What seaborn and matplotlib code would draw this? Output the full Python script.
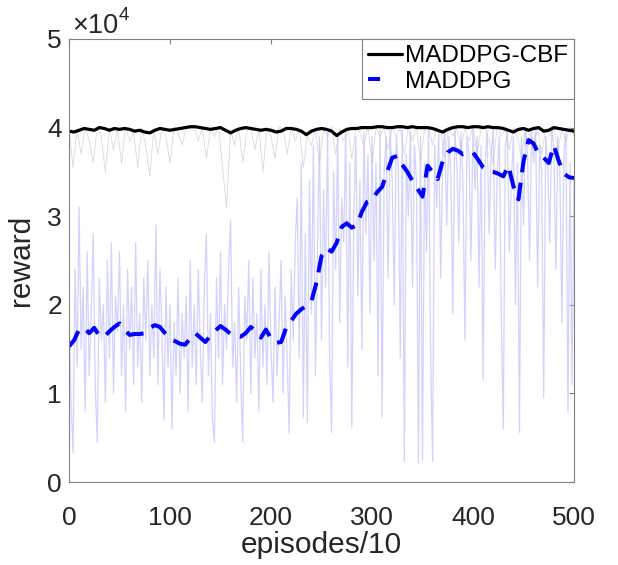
import numpy as np
import matplotlib
matplotlib.use("Agg")
import matplotlib.pyplot as plt
import seaborn as sns

# raw MADDPG reward (x1e4), every 2 episodes/10 from 0 to 500
maddpg_raw = [
    1.9, 0.9, 0.33, 2.4, 1.3, 3.1, 1.5, 2.2, 0.8, 2.6,
    1.2, 1.9, 2.8, 1.1, 0.45, 2.3, 1.6, 2.0, 0.9, 2.5,
    1.4, 2.7, 1.0, 2.1, 1.7, 2.6, 1.2, 2.0, 0.8, 2.4,
    1.5, 2.2, 1.1, 2.7, 1.3, 1.9, 0.9, 2.3, 1.6, 2.5,
    1.2, 2.0, 1.4, 2.9, 1.1, 2.4, 1.7, 0.7, 2.2, 1.3,
    2.0, 0.6, 1.8, 1.2, 2.3, 1.0, 1.9, 1.4, 2.1, 0.8,
    2.5, 1.3, 2.0, 1.1, 2.4, 1.5, 0.9, 2.2, 2.8, 1.2,
    1.9, 0.7, 0.45, 2.3, 1.4, 2.6, 1.1, 2.0, 1.5, 2.4,
    2.95, 1.3, 1.8, 0.9, 2.2, 1.2, 0.45, 2.1, 1.6, 2.5,
    1.0, 2.3, 1.4, 1.9, 0.8, 2.4, 1.3, 2.0, 1.1, 2.6,
    1.5, 0.9, 2.2, 1.2, 1.8, 2.5, 1.0, 2.1, 1.4, 0.55,
    2.4, 1.6, 2.7, 3.2, 1.4, 3.6, 0.73, 2.8, 0.67, 3.4,
    1.9, 3.8, 1.2, 2.6, 3.9, 1.6, 3.3, 2.2, 3.95, 1.4,
    0.56, 3.5, 2.4, 3.9, 1.8, 3.2, 2.7, 3.98, 1.3, 3.6,
    0.62, 3.0, 3.9, 2.1, 3.4, 1.5, 3.95, 2.8, 3.7, 1.9,
    3.9, 2.5, 3.6, 1.2, 3.98, 0.73, 3.5, 3.9, 2.3, 3.97,
    3.4, 2.0, 3.9, 3.6, 1.4, 3.98, 0.23, 3.7, 3.0, 3.95,
    2.2, 3.8, 3.4, 0.21, 3.9, 0.25, 3.6, 2.6, 3.98, 1.5,
    0.23, 3.8, 3.1, 3.95, 2.3, 3.7, 3.98, 2.9, 3.9, 3.5,
    1.9, 3.98, 3.6, 2.7, 3.95, 3.4, 1.6, 3.9, 3.7, 2.5,
    3.98, 3.3, 3.9, 2.2, 3.8, 1.15, 3.6, 3.95, 2.8, 3.7,
    3.98, 2.4, 3.5, 3.9, 1.9, 0.6, 3.8, 3.95, 2.6, 3.4,
    3.9, 2.0, 3.6, 0.56, 3.9, 2.9, 3.98, 3.7, 2.5, 3.95,
    3.6, 3.98, 2.2, 3.8, 3.5, 0.95, 3.9, 3.6, 2.7, 3.98,
    3.8, 2.4, 3.9, 3.5, 1.8, 3.7, 3.95, 0.8, 3.6, 1.1,
    3.4,
]

# raw MADDPG-CBF reward (x1e4), every 4 episodes/10
cbf_raw = [
    3.98, 3.55, 3.99, 3.7, 4.0, 3.85, 3.6, 4.01, 3.9, 3.5,
    4.0, 3.75, 3.98, 3.6, 4.01, 3.85, 3.95, 3.55, 4.0, 3.8,
    3.45, 3.99, 3.7, 4.0, 3.9, 3.6, 4.01, 3.95, 3.8, 4.0,
    3.98, 4.01, 3.85, 4.0, 3.65, 3.99, 3.9, 4.01, 3.55, 3.1,
    3.98, 3.8, 4.0, 3.6, 3.95, 4.01, 3.75, 3.98, 3.5, 4.0,
    3.9, 3.65, 4.01, 3.98, 3.7, 4.0, 3.85, 3.99, 3.55, 3.9,
    3.8, 4.0, 3.6, 3.98, 3.9, 4.01, 3.7, 3.99, 3.85, 4.0,
    3.65, 4.0, 3.95, 3.8, 4.01, 3.6, 3.99, 3.9, 4.0, 3.75,
    4.01, 3.9, 3.99, 3.7, 4.0, 3.85, 4.01, 3.6, 3.98, 4.0,
    3.8, 4.0, 3.95, 3.65, 4.01, 3.9, 3.99, 3.75, 4.0, 3.85,
    4.01, 3.7, 3.98, 4.0, 3.85, 3.6, 4.01, 3.9, 3.99, 3.75,
    4.0, 3.9, 3.65, 4.01, 3.95, 3.8, 4.0, 3.7, 3.99, 3.9,
    4.0, 3.75, 3.98, 3.85, 4.01, 3.9,
]

# smoothed curves (x1e4), every 5 episodes/10
cbf_smooth = [
    3.96, 3.95, 3.97, 3.99, 3.98, 3.97, 4.00, 3.99, 3.97, 3.99,
    3.98, 3.99, 3.98, 3.96, 3.97, 3.95, 3.94, 3.97, 3.99, 3.98,
    3.97, 3.98, 3.99, 4.00, 4.01, 4.01, 4.00, 3.99, 3.98, 3.99,
    4.00, 3.97, 3.94, 3.97, 3.99, 4.00, 3.99, 3.98, 3.97, 3.98,
    3.97, 3.95, 3.96, 3.99, 3.99, 3.98, 3.96, 3.92, 3.96, 3.98,
    3.99, 3.98, 3.96, 3.91, 3.95, 3.98, 3.99, 3.99, 4.00, 4.00,
    4.00, 4.01, 4.01, 4.00, 4.00, 4.01, 4.01, 4.00, 4.01, 4.00,
    4.00, 4.00, 3.99, 3.97, 3.95, 3.98, 4.00, 4.01, 4.01, 4.00,
    4.01, 4.01, 4.00, 4.01, 4.00, 4.00, 3.99, 3.97, 3.95, 3.98,
    3.99, 3.97, 3.99, 4.00, 3.96, 3.97, 4.00, 3.99, 3.98, 3.97,
    3.96,
]

maddpg_smooth = [
    1.53, 1.60, 1.72, 1.74, 1.68, 1.74, 1.65, 1.64, 1.70, 1.75,
    1.79, 1.72, 1.66, 1.67, 1.67, 1.68, 1.74, 1.77, 1.75, 1.68,
    1.62, 1.59, 1.56, 1.55, 1.62, 1.68, 1.63, 1.58, 1.65, 1.71,
    1.76, 1.72, 1.67, 1.65, 1.64, 1.68, 1.75, 1.70, 1.63, 1.72,
    1.62, 1.57, 1.58, 1.74, 1.82, 1.90, 1.95, 1.99, 2.04, 2.25,
    2.55, 2.64, 2.60, 2.70, 2.88, 2.92, 2.87, 2.90, 3.05, 3.16,
    3.18, 3.27, 3.33, 3.50, 3.66, 3.68, 3.58, 3.50, 3.40, 3.31,
    3.22, 3.57, 3.50, 3.42, 3.62, 3.72, 3.76, 3.74, 3.70, 3.72,
    3.72, 3.64, 3.55, 3.51, 3.50, 3.48, 3.45, 3.57, 3.34, 3.19,
    3.62, 3.86, 3.82, 3.70, 3.66, 3.60, 3.80, 3.62, 3.48, 3.44,
    3.43,
]

x_maddpg_raw = np.arange(len(maddpg_raw)) * 2
x_cbf_raw = np.arange(len(cbf_raw)) * 4
x_smooth = np.arange(len(cbf_smooth)) * 5
scale = 1e4

sns.set_style("white")
plt.rcParams['font.family'] = ['Liberation Sans', 'DejaVu Sans']

fig = plt.figure(figsize=(6.18, 5.65), dpi=100)
ax = fig.add_axes([69 / 618, 1 - 482 / 565, 505 / 618, 443 / 565])

sns.lineplot(x=x_cbf_raw, y=np.array(cbf_raw) * scale, color='#d9d9d9',
             lw=0.6, ax=ax, legend=False)
sns.lineplot(x=x_maddpg_raw, y=np.array(maddpg_raw) * scale, color='#b4b4ff',
             lw=0.9, alpha=0.6, ax=ax, legend=False)
sns.lineplot(x=x_smooth, y=np.array(cbf_smooth) * scale, color='black',
             lw=2.3, ax=ax, label='MADDPG-CBF')
sns.lineplot(x=x_smooth, y=np.array(maddpg_smooth) * scale, color='#0000ff',
             lw=2.9, linestyle=(0, (4.5, 2.6)), ax=ax, label='MADDPG')

ax.set_xlim(0, 500)
ax.set_ylim(0, 5e4)
ax.set_xticks([0, 100, 200, 300, 400, 500])
ax.set_yticks([0, 1e4, 2e4, 3e4, 4e4, 5e4])
ax.set_yticklabels(['0', '1', '2', '3', '4', '5'])

for s in ax.spines.values():
    s.set_color('#808080')
    s.set_linewidth(0.8)
ax.tick_params(axis='both', direction='in', length=3.6, width=0.8,
               color='#808080', labelcolor='#262626', labelsize=19,
               top=True, right=True)
ax.tick_params(axis='x', pad=17)
ax.tick_params(axis='y', pad=5)

ax.set_xlabel('episodes/10', fontsize=21.5, color='#262626')
ax.set_ylabel('reward', fontsize=21.5, color='#262626')
ax.xaxis.set_label_coords(0.5, -0.11)
ax.yaxis.set_label_coords(-0.067, 0.5)

# exponent marker above the y axis
fig.text(72 / 618, 1 - 33 / 565, '×10', fontsize=19.5, color='#262626',
         ha='left', va='baseline')
fig.text(119 / 618, 1 - 20 / 565, '4', fontsize=13.5, color='#262626',
         ha='left', va='baseline')

leg = ax.legend(loc='upper right', fontsize=17.5, frameon=True, fancybox=False,
                framealpha=1, edgecolor='#808080', borderaxespad=0,
                handlelength=1.4, handletextpad=0.1, borderpad=0.25,
                labelspacing=0.15, labelcolor='black')
leg.get_frame().set_linewidth(0.8)
# the dashed handle shows one short dash, as in the original
leg.get_lines()[1].set_linestyle((0, (3, 20)))

fig.savefig('out.png', dpi=100)
